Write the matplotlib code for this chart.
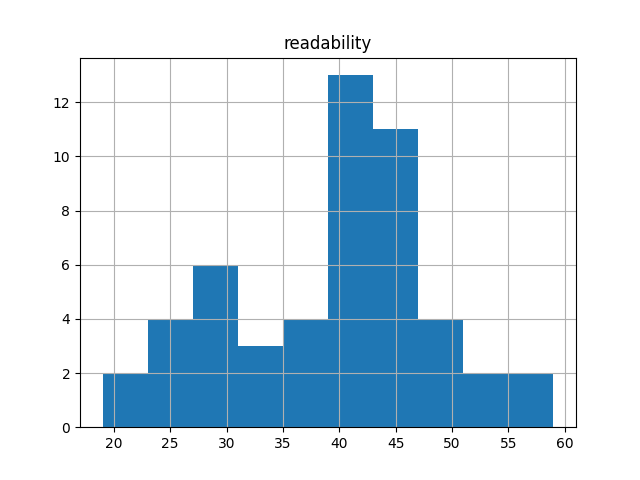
import numpy as np
from matplotlib import pyplot as plt

# histogram of readability scores
bin_edges = [19, 23, 27, 31, 35, 39, 43, 47, 51, 55, 59]
bin_counts = [2, 4, 6, 3, 4, 13, 11, 4, 2, 2]


def main():
    fig, ax = plt.subplots(figsize=(6.4, 4.8), dpi=100)

    edges = np.array(bin_edges)
    ax.hist(edges[:-1], bins=edges, weights=bin_counts, color="#1f77b4")

    ax.set_title("readability")
    ax.grid(True)
    fig.savefig("out.png")


if __name__ == "__main__":
    main()
